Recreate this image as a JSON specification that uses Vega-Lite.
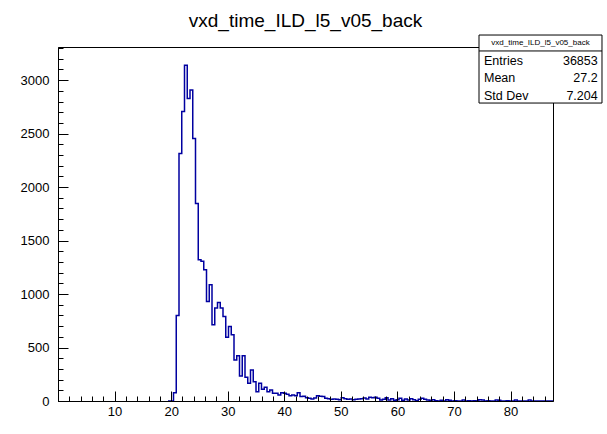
{
  "$schema": "https://vega.github.io/schema/vega-lite/v6.json",
  "width": 495,
  "height": 354,
  "autosize": {"type": "none"},
  "padding": {"left": 58, "top": 47, "right": 54, "bottom": 33},
  "background": "white",
  "config": {"view": {"stroke": "black", "strokeWidth": 1}, "font": "Liberation Sans"},
  "title": {"text": "vxd_time_ILD_l5_v05_back", "fontSize": 19, "fontWeight": "normal", "font": "Liberation Sans", "anchor": "middle", "offset": 4, "color": "black"},
  "resolve": {"axis": {"x": "independent", "y": "independent"}},
  "layer": [
    {
      "data": {"values": [
        {"t": 19.4444, "n": 0}, {"t": 19.9306, "n": 0}, {"t": 20.4167, "n": 78}, {"t": 20.9028, "n": 800},
        {"t": 21.3889, "n": 2315}, {"t": 21.875, "n": 2706}, {"t": 22.3611, "n": 3140}, {"t": 22.8472, "n": 2828},
        {"t": 23.3333, "n": 2908}, {"t": 23.8194, "n": 2455}, {"t": 24.3056, "n": 1846}, {"t": 24.7917, "n": 1321},
        {"t": 25.2778, "n": 1306}, {"t": 25.7639, "n": 1228}, {"t": 26.25, "n": 931}, {"t": 26.7361, "n": 1087},
        {"t": 27.2222, "n": 712}, {"t": 27.7083, "n": 869}, {"t": 28.1944, "n": 921}, {"t": 28.6806, "n": 869},
        {"t": 29.1667, "n": 790}, {"t": 29.6528, "n": 597}, {"t": 30.1389, "n": 697}, {"t": 30.625, "n": 619},
        {"t": 31.1111, "n": 384}, {"t": 31.5972, "n": 422}, {"t": 32.0833, "n": 234}, {"t": 32.5694, "n": 422},
        {"t": 33.0556, "n": 222}, {"t": 33.5417, "n": 166}, {"t": 34.0278, "n": 291}, {"t": 34.5139, "n": 181},
        {"t": 35.0, "n": 87}, {"t": 35.4861, "n": 166}, {"t": 35.9722, "n": 110}, {"t": 36.4583, "n": 128},
        {"t": 36.9444, "n": 87}, {"t": 37.4306, "n": 103}, {"t": 37.9167, "n": 72}, {"t": 38.4028, "n": 72},
        {"t": 38.8889, "n": 56}, {"t": 39.375, "n": 78}, {"t": 39.8611, "n": 72}, {"t": 40.3472, "n": 62},
        {"t": 40.8333, "n": 50}, {"t": 41.3194, "n": 56}, {"t": 41.8056, "n": 50}, {"t": 42.2917, "n": 78},
        {"t": 42.7778, "n": 41}, {"t": 43.2639, "n": 44}, {"t": 43.75, "n": 31}, {"t": 44.2361, "n": 25},
        {"t": 44.7222, "n": 19}, {"t": 45.2083, "n": 28}, {"t": 45.6944, "n": 50}, {"t": 46.1806, "n": 44},
        {"t": 46.6667, "n": 41}, {"t": 47.1528, "n": 25}, {"t": 47.6389, "n": 22}, {"t": 48.125, "n": 16},
        {"t": 48.6111, "n": 19}, {"t": 49.0972, "n": 16}, {"t": 49.5833, "n": 12}, {"t": 50.0694, "n": 31},
        {"t": 50.5556, "n": 22}, {"t": 51.0417, "n": 16}, {"t": 51.5278, "n": 19}, {"t": 52.0139, "n": 12},
        {"t": 52.5, "n": 16}, {"t": 52.9861, "n": 19}, {"t": 53.4722, "n": 22}, {"t": 53.9583, "n": 28},
        {"t": 54.4444, "n": 19}, {"t": 54.9306, "n": 34}, {"t": 55.4167, "n": 31}, {"t": 55.9028, "n": 34},
        {"t": 56.3889, "n": 25}, {"t": 56.875, "n": 9}, {"t": 57.3611, "n": 16}, {"t": 57.8472, "n": 31},
        {"t": 58.3333, "n": 9}, {"t": 58.8194, "n": 22}, {"t": 59.3056, "n": 6}, {"t": 59.7917, "n": 12},
        {"t": 60.2778, "n": 25}, {"t": 60.7639, "n": 6}, {"t": 61.25, "n": 19}, {"t": 61.7361, "n": 9},
        {"t": 62.2222, "n": 22}, {"t": 62.7083, "n": 12}, {"t": 63.1944, "n": 3}, {"t": 63.6806, "n": 16},
        {"t": 64.1667, "n": 25}, {"t": 64.6528, "n": 16}, {"t": 65.1389, "n": 9}, {"t": 65.625, "n": 6},
        {"t": 66.1111, "n": 12}, {"t": 66.5972, "n": 3}, {"t": 67.0833, "n": 0}, {"t": 67.5694, "n": 6},
        {"t": 68.0556, "n": 0}, {"t": 68.5417, "n": 12}, {"t": 69.0278, "n": 6}, {"t": 69.5139, "n": 0},
        {"t": 70.0, "n": 3}, {"t": 70.4861, "n": 0}, {"t": 70.9722, "n": 0}, {"t": 71.4583, "n": 9},
        {"t": 71.9444, "n": 0}, {"t": 72.4306, "n": 3}, {"t": 72.9167, "n": 0}, {"t": 73.4028, "n": 3},
        {"t": 73.8889, "n": 0}, {"t": 74.375, "n": 12}, {"t": 74.8611, "n": 9}, {"t": 75.3472, "n": 0},
        {"t": 75.8333, "n": 3}, {"t": 76.3194, "n": 0}, {"t": 76.8056, "n": 0}, {"t": 77.2917, "n": 9},
        {"t": 77.7778, "n": 6}, {"t": 78.2639, "n": 0}, {"t": 78.75, "n": 0}, {"t": 79.2361, "n": 3},
        {"t": 79.7222, "n": 0}, {"t": 80.2083, "n": 0}, {"t": 80.6944, "n": 9}, {"t": 81.1806, "n": 0},
        {"t": 81.6667, "n": 0}, {"t": 82.1528, "n": 0}, {"t": 82.6389, "n": 0}, {"t": 83.125, "n": 9},
        {"t": 83.6111, "n": 0}, {"t": 84.0972, "n": 0}, {"t": 84.5833, "n": 0}, {"t": 85.0694, "n": 0},
        {"t": 85.5556, "n": 0}, {"t": 86.0417, "n": 0}, {"t": 86.5278, "n": 0}, {"t": 87.0139, "n": 0},
        {"t": 87.5, "n": 0}
      ]},
      "mark": {"type": "line", "interpolate": "step-after", "color": "#0000a0", "strokeWidth": 1.5},
      "encoding": {
        "x": {"field": "t", "type": "quantitative",
          "scale": {"domain": [0, 87.5], "nice": false, "zero": false},
          "axis": {"title": null, "grid": false, "zindex": 1, "orient": "bottom",
            "values": [0,2,4,6,8,10,12,14,16,18,20,22,24,26,28,30,32,34,36,38,40,42,44,46,48,50,52,54,56,58,60,62,64,66,68,70,72,74,76,78,80,82,84,86],
            "labelExpr": "datum.value % 10 === 0 && datum.value > 0 ? datum.label : ''",
            "tickSize": {"condition": {"test": "datum.value % 10 === 0", "value": -10}, "value": -5},
            "labelPadding": 14, "labelFontSize": 13, "labelColor": "black", "labelFont": "Liberation Sans",
            "domainColor": "black", "tickColor": "black", "labelFlush": false, "labelOverlap": false}},
        "y": {"field": "n", "type": "quantitative",
          "scale": {"domain": [0, 3310], "nice": false},
          "axis": {"title": null, "grid": false, "zindex": 1, "format": "d", "orient": "left",
            "values": [0,100,200,300,400,500,600,700,800,900,1000,1100,1200,1300,1400,1500,1600,1700,1800,1900,2000,2100,2200,2300,2400,2500,2600,2700,2800,2900,3000,3100,3200,3300],
            "labelExpr": "datum.value % 500 === 0 ? datum.label : ''",
            "tickSize": {"condition": {"test": "datum.value % 500 === 0", "value": -10}, "value": -5},
            "labelPadding": 19, "labelFontSize": 13, "labelColor": "black", "labelFont": "Liberation Sans",
            "domainColor": "black", "tickColor": "black", "labelFlush": false, "labelOverlap": false}}
      }
    },
    {
      "data": {"values": [{}]},
      "mark": {"type": "rect", "fill": "white", "stroke": "black", "strokeWidth": 1},
      "encoding": {
        "x": {"datum": 74.42, "type": "quantitative", "axis": null}, "x2": {"datum": 96.16},
        "y": {"datum": 3422, "type": "quantitative", "axis": null}, "y2": {"datum": 2786}
      }
    },
    {
      "data": {"values": [{}]},
      "mark": {"type": "rule", "color": "black", "strokeWidth": 1},
      "encoding": {
        "x": {"datum": 74.42, "type": "quantitative", "axis": null}, "x2": {"datum": 96.16},
        "y": {"datum": 3273, "type": "quantitative", "axis": null}
      }
    },
    {
      "data": {"values": [{}]},
      "mark": {"type": "text", "text": "vxd_time_ILD_l5_v05_back", "fontSize": 8, "font": "Liberation Sans", "align": "center", "baseline": "middle", "color": "black"},
      "encoding": {
        "x": {"datum": 85.29, "type": "quantitative", "axis": null},
        "y": {"datum": 3347, "type": "quantitative", "axis": null}
      }
    },
    {
      "data": {"values": [{}]},
      "mark": {"type": "text", "text": ["Entries", "Mean", "Std Dev"], "lineHeight": 17.3, "fontSize": 12.5, "font": "Liberation Sans", "align": "left", "baseline": "middle", "color": "black"},
      "encoding": {
        "x": {"datum": 75.3, "type": "quantitative", "axis": null},
        "y": {"datum": 3179, "type": "quantitative", "axis": null}
      }
    },
    {
      "data": {"values": [{}]},
      "mark": {"type": "text", "text": ["36853", "27.2", "7.204"], "lineHeight": 17.3, "fontSize": 12.5, "font": "Liberation Sans", "align": "right", "baseline": "middle", "color": "black"},
      "encoding": {
        "x": {"datum": 95.4, "type": "quantitative", "axis": null},
        "y": {"datum": 3179, "type": "quantitative", "axis": null}
      }
    }
  ]
}
